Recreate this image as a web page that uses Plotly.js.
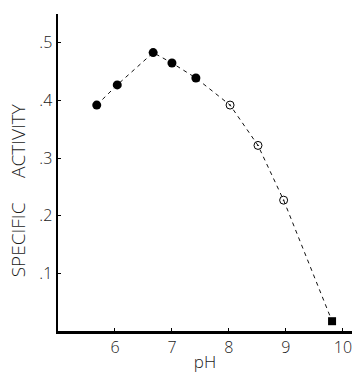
<!DOCTYPE html>
<html><head><meta charset="utf-8">
<script src="https://cdn.plot.ly/plotly-3.0.1.min.js"></script>
<style>html,body{margin:0;padding:0;background:#fff;}#chart{width:352px;height:374px;}</style>
</head><body><div id="chart"></div>
<script>
var phFilled = [5.68, 6.04, 6.67, 7.0, 7.42];
var actFilled = [0.392, 0.427, 0.483, 0.465, 0.439];
var phOpen = [8.02, 8.51, 8.96];
var actOpen = [0.392, 0.322, 0.227];
var phSquare = [9.81];
var actSquare = [0.017];
var xTickVals = [6, 7, 8, 9, 10];
var xTickText = ['6', '7', '8', '9', '10'];
var yTickVals = [0.1, 0.2, 0.3, 0.4, 0.5];
var yTickText = ['.1', '.2', '.3', '.4', '.5'];

var allPh = phFilled.concat(phOpen, phSquare);
var allAct = actFilled.concat(actOpen, actSquare);
var font = 'Open Sans, Liberation Sans, Arial, sans-serif';
var txtCol = '#1a1a1a';

var traces = [
  {x: allPh, y: allAct, mode: 'lines', line: {color: '#111', width: 1, dash: '4px,4px'}, hoverinfo: 'skip'},
  {x: phFilled, y: actFilled, mode: 'markers', marker: {symbol: 'circle', size: 9, color: '#000'}},
  {x: phOpen, y: actOpen, mode: 'markers', marker: {symbol: 'circle-open-dot', size: 8, color: '#000', line: {width: 1}}},
  {x: phSquare, y: actSquare, mode: 'markers', marker: {symbol: 'square', size: 8, color: '#000'}}
];

var layout = {
  width: 352, height: 374,
  margin: {l: 58, r: 0, t: 14, b: 43, pad: 0},
  showlegend: false,
  paper_bgcolor: '#fff', plot_bgcolor: '#fff',
  font: {family: font, color: txtCol, size: 15, weight: 300},
  xaxis: {
    range: [5.0, 10.16], tickvals: xTickVals, ticktext: xTickText, ticklabeloverflow: 'allow',
    showgrid: false, zeroline: false, showline: true, linecolor: '#000', linewidth: 2.5,
    ticks: 'inside', ticklen: 3, tickcolor: '#000', tickfont: {size: 16, family: font, color: txtCol, weight: 300},
    title: {text: 'pH', font: {size: 17, family: font, color: txtCol, weight: 300}, standoff: 0}
  },
  yaxis: {
    range: [0, 0.55], tickvals: yTickVals, ticktext: yTickText,
    showgrid: false, zeroline: false, showline: true, linecolor: '#000', linewidth: 2.5,
    ticks: 'inside', ticklen: 3, tickcolor: '#000', tickfont: {size: 16, family: font, color: txtCol, weight: 300}
  },
  annotations: [{
    text: 'SPECIFIC&nbsp;&nbsp;&nbsp;&nbsp;&nbsp;ACTIVITY', textangle: -90, showarrow: false,
    xref: 'paper', yref: 'paper', x: -0.135, y: 0.445, xanchor: 'center', yanchor: 'middle',
    font: {size: 19, family: font, color: txtCol, weight: 300}
  }]
};

Plotly.newPlot('chart', traces, layout, {displayModeBar: false, staticPlot: true});
</script></body></html>
